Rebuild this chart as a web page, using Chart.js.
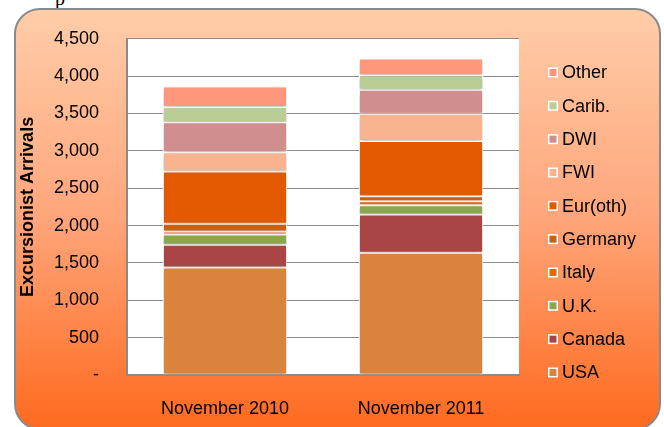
<!DOCTYPE html>
<html>
<head>
<meta charset="utf-8">
<script src="https://cdn.jsdelivr.net/npm/chart.js@4/dist/chart.umd.min.js"></script>
<style>
  html, body { margin: 0; padding: 0; width: 664px; height: 427px; overflow: hidden; background: #ffffff; }
  #frag { position: absolute; left: 55px; top: -13px; font: 20px "Liberation Serif", serif; color: #000; }
  #card { position: absolute; left: 14px; top: 8px; width: 643px; height: 418px; border: 2px solid #8a8a8a; border-radius: 26px;
          background: linear-gradient(to bottom, #FFCDA9 0%, #FFA57A 50%, #FF6A1F 100%); }
  #c { position: absolute; left: 0; top: 0; }
</style>
</head>
<body>
<div id="frag">p</div>
<div id="card"></div>
<canvas id="c" width="664" height="427"></canvas>
<script>
// ---- data ----
const categories = ['November 2010', 'November 2011'];
const seriesNames = ['USA', 'Canada', 'U.K.', 'Italy', 'Germany', 'Eur(oth)', 'FWI', 'DWI', 'Carib.', 'Other'];
const usa     = [1440, 1636];
const canada  = [305, 511];
const uk      = [135, 126];
const italy   = [40, 54];
const germany = [105, 64];
const eurOth  = [700, 742];
const fwi     = [258, 364];
const dwi     = [400, 320];
const carib   = [204, 196];
const other   = [276, 223];
const yTickLabels = ['-', '500', '1,000', '1,500', '2,000', '2,500', '3,000', '3,500', '4,000', '4,500'];

const seriesValues = [usa, canada, uk, italy, germany, eurOth, fwi, dwi, carib, other];
const seriesColors = ['#D9833D', '#A94545', '#8AA74F', '#E3660C', '#C9600F', '#E25900', '#F8B48E', '#D08E8E', '#B9CD95', '#FF977D'];

const FONT = '"Liberation Sans", Arial, sans-serif';

const datasets = seriesNames.map((name, i) => ({
  label: name,
  data: seriesValues[i],
  backgroundColor: seriesColors[i],
  borderColor: '#ffffff',
  borderWidth: 1,
  borderSkipped: false,
  barPercentage: 0.633,
  categoryPercentage: 1.0
}));

const plotBg = {
  id: 'plotBg',
  beforeDraw(chart) {
    const a = chart.chartArea, ctx = chart.ctx;
    ctx.save();
    ctx.fillStyle = '#ffffff';
    ctx.fillRect(a.left, a.top, a.right - a.left, a.bottom - a.top);
    ctx.restore();
  },
  beforeDatasetsDraw(chart) {
    const ctx = chart.ctx;
    ctx.save();
    ctx.shadowColor = 'rgba(0,0,0,0.28)';
    ctx.shadowBlur = 5;
    ctx.shadowOffsetY = 2;
  },
  afterDatasetsDraw(chart) {
    chart.ctx.restore();
  }
};

const sideLegend = {
  id: 'sideLegend',
  afterDraw(chart) {
    const ctx = chart.ctx, a = chart.chartArea;
    const ds = chart.data.datasets;
    const x0 = a.right + 29;
    const y0 = a.top + 33.7;
    const step = 33.33;
    ctx.save();
    ctx.font = '18px ' + FONT;
    ctx.textBaseline = 'middle';
    ctx.textAlign = 'left';
    for (let k = 0; k < ds.length; k++) {
      const d = ds[ds.length - 1 - k];
      const y = y0 + k * step;
      ctx.fillStyle = '#ffffff';
      ctx.fillRect(x0, y - 5, 10, 10);
      ctx.fillStyle = d.backgroundColor;
      ctx.fillRect(x0 + 1.5, y - 3.5, 7, 7);
      ctx.fillStyle = '#000000';
      ctx.fillText(d.label, x0 + 14, y + 1);
    }
    ctx.restore();
  }
};

new Chart(document.getElementById('c'), {
  type: 'bar',
  data: { labels: categories, datasets: datasets },
  plugins: [plotBg, sideLegend],
  options: {
    responsive: false,
    devicePixelRatio: 1,
    animation: false,
    layout: { padding: { top: 37, right: 145, bottom: 0, left: 0 } },
    plugins: { legend: { display: false }, tooltip: { enabled: false } },
    scales: {
      x: {
        stacked: true,
        grid: { display: false, drawTicks: false },
        border: { display: true, color: '#8a8a8a', width: 2 },
        ticks: { padding: 23, color: '#000', font: { family: FONT, size: 18 } },
        afterFit(s) { s.height = 52; }
      },
      y: {
        stacked: true,
        min: 0, max: 4500,
        grid: { color: '#8c8c8c', lineWidth: 1, drawTicks: false },
        border: { display: true, color: '#8a8a8a', width: 2 },
        ticks: {
          stepSize: 500, padding: 28, color: '#000',
          font: { family: FONT, size: 18 },
          callback: (v, i) => yTickLabels[i]
        },
        title: {
          display: true, text: 'Excursionist Arrivals', color: '#000',
          font: { family: FONT, size: 18, weight: 'bold' },
          padding: { top: 17, bottom: 0 }
        },
        afterFit(s) { s.width = 127; }
      }
    }
  }
});
</script>
</body>
</html>
